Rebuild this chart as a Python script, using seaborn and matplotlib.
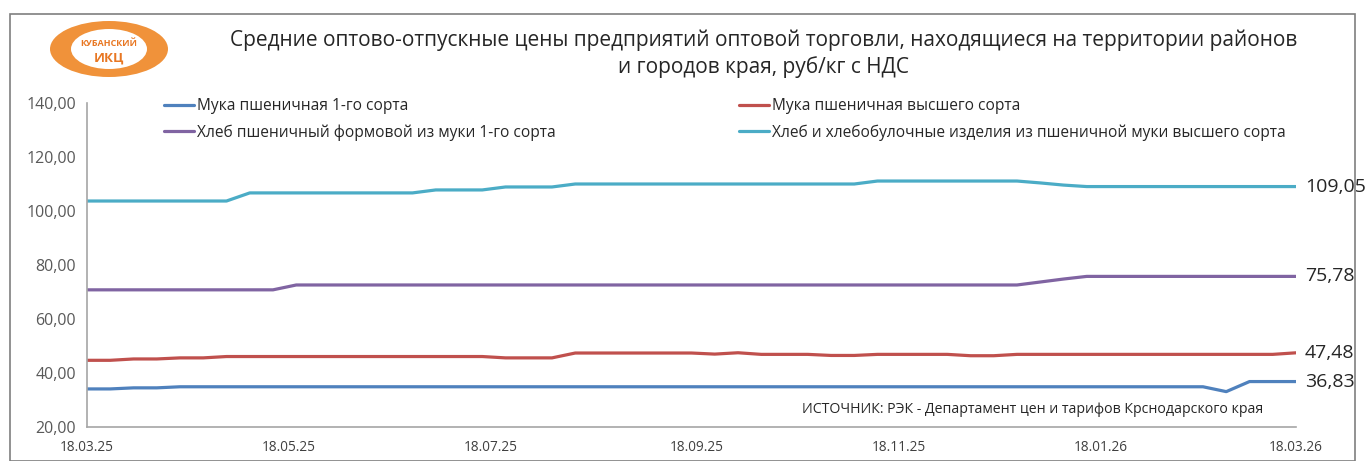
import numpy as np
import pandas as pd
import matplotlib
matplotlib.use("Agg")
import matplotlib.pyplot as plt
import matplotlib.dates as mdates
from matplotlib.patches import Ellipse, Rectangle
import seaborn as sns

# ---------------- data ----------------
start_date = "2025-03-18"
end_date = "2026-03-18"
n_points = 53

flour_1 = [34.1, 34.1, 34.5, 34.5, 34.9, 34.9, 34.9, 34.9, 34.9, 34.9,
           34.9, 34.9, 34.9, 34.9, 34.9, 34.9, 34.9, 34.9, 34.9, 34.9,
           34.9, 34.9, 34.9, 34.9, 34.9, 34.9, 34.9, 34.9, 34.9, 34.9,
           34.9, 34.9, 34.9, 34.9, 34.9, 34.9, 34.9, 34.9, 34.9, 34.9,
           34.9, 34.9, 34.9, 34.9, 34.9, 34.9, 34.9, 34.9, 34.9, 33.1,
           36.83, 36.83, 36.83]
flour_top = [44.7, 44.7, 45.2, 45.2, 45.6, 45.6, 46.1, 46.1, 46.1, 46.1,
             46.1, 46.1, 46.1, 46.1, 46.1, 46.1, 46.1, 46.1, 45.6, 45.6,
             45.6, 47.4, 47.4, 47.4, 47.4, 47.4, 47.4, 47.0, 47.5, 46.9,
             46.9, 46.9, 46.5, 46.5, 46.9, 46.9, 46.9, 46.9, 46.4, 46.4,
             46.9, 46.9, 46.9, 46.9, 46.9, 46.9, 46.9, 46.9, 46.9, 46.9,
             46.9, 46.9, 47.48]
bread_1 = [70.8, 70.8, 70.8, 70.8, 70.8, 70.8, 70.8, 70.8, 70.8, 72.6,
           72.6, 72.6, 72.6, 72.6, 72.6, 72.6, 72.6, 72.6, 72.6, 72.6,
           72.6, 72.6, 72.6, 72.6, 72.6, 72.6, 72.6, 72.6, 72.6, 72.6,
           72.6, 72.6, 72.6, 72.6, 72.6, 72.6, 72.6, 72.6, 72.6, 72.6,
           72.6, 73.7, 74.8, 75.78, 75.78, 75.78, 75.78, 75.78, 75.78, 75.78,
           75.78, 75.78, 75.78]
bread_top = [103.7, 103.7, 103.7, 103.7, 103.7, 103.7, 103.7, 106.7, 106.7, 106.7,
             106.7, 106.7, 106.7, 106.7, 106.7, 107.8, 107.8, 107.8, 108.9, 108.9,
             108.9, 110.0, 110.0, 110.0, 110.0, 110.0, 110.0, 110.0, 110.0, 110.0,
             110.0, 110.0, 110.0, 110.0, 111.1, 111.1, 111.1, 111.1, 111.1, 111.1,
             111.1, 110.4, 109.6, 109.05, 109.05, 109.05, 109.05, 109.05, 109.05, 109.05,
             109.05, 109.05, 109.05]

series_names = ["Мука пшеничная 1-го сорта",
                "Мука пшеничная высшего сорта",
                "Хлеб пшеничный формовой из муки 1-го сорта",
                "Хлеб и хлебобулочные изделия из пшеничной муки высшего сорта"]
series_colors = ["#4F81BD", "#C0504D", "#8064A2", "#4BACC6"]
end_labels = ["36,83", "47,48", "75,78", "109,05"]
y_ticks = [20, 40, 60, 80, 100, 120, 140]
x_tick_labels = ["18.03.25", "18.05.25", "18.07.25", "18.09.25", "18.11.25", "18.01.26", "18.03.26"]

title = ("Средние оптово-отпускные цены предприятий оптовой торговли, находящиеся на территории районов\n"
         "и городов края, руб/кг с НДС")
source = "ИСТОЧНИК: РЭК - Департамент цен и тарифов Крснодарского края"

# ---------------- build frame ----------------
dates = pd.date_range(start_date, end_date, periods=n_points)
values = [flour_1, flour_top, bread_1, bread_top]
df = pd.concat([pd.DataFrame({"date": dates, "value": v, "series": name})
                for name, v in zip(series_names, values)], ignore_index=True)

sns.set_theme(style="white")
plt.rcParams["font.family"] = ["Open Sans", "DejaVu Sans"]

W, H = 1365, 461
fig = plt.figure(figsize=(W / 100, H / 100), dpi=100)
ax = fig.add_axes([87 / W, 1 - 427 / H, (1296 - 87) / W, (427 - 103) / H])

sns.lineplot(data=df, x="date", y="value", hue="series", hue_order=series_names,
             palette=series_colors, linewidth=2.3, ax=ax, legend=False)

ax.set_ylim(20, 140)
ax.set_yticks(y_ticks)
ax.set_yticklabels([f"{t:.2f}".replace(".", ",") for t in y_ticks])
ax.set_xlim(pd.Timestamp(start_date), pd.Timestamp(end_date))
xt = pd.to_datetime(x_tick_labels, format="%d.%m.%y")
ax.set_xticks(xt)
ax.set_xticklabels(x_tick_labels)
ax.set_xlabel("")
ax.set_ylabel("")
ax.tick_params(axis="y", labelsize=11.5, colors="#595959", length=0, pad=8)
ax.tick_params(axis="x", labelsize=9.8, colors="#404040", length=0, pad=9)
for side in ["top", "right"]:
    ax.spines[side].set_visible(False)
for side in ["left", "bottom"]:
    ax.spines[side].set_color("#A6A6A6")
    ax.spines[side].set_linewidth(1.2)
ax.grid(False)

# end labels
for v, lab in zip(values, end_labels):
    ax.annotate(lab, xy=(dates[-1], v[-1]), xytext=(6.5, 0), textcoords="offset points",
                va="center", ha="left", fontsize=14, color="#262626", annotation_clip=False)

# legend
handles = [plt.Line2D([], [], color=c, lw=2.3) for c in series_colors]
order = [0, 2, 1, 3]
leg = fig.legend([handles[i] for i in order], [series_names[i] for i in order],
                 ncol=2, loc="upper left", bbox_to_anchor=(150 / W, 1 - 84 / H),
                 frameon=False, fontsize=11.2, handlelength=1.9, handletextpad=0.2,
                 columnspacing=11.8, labelspacing=0.65)
for t in leg.get_texts():
    t.set_color("#262626")

# title
fig.text(764 / W, 1 - 54 / H, title, ha="center", va="center", fontsize=15,
         color="#262626", linespacing=1.3)

# source
fig.text(1263 / W, 1 - 409 / H, source, ha="right", va="center", fontsize=10.2, color="#262626")

# outer frame
fig.patches.append(Rectangle((10 / W, 0), (1355 - 10) / W, (461 - 14) / H,
                             transform=fig.transFigure, fill=False,
                             edgecolor="#7F7F7F", linewidth=1.2))

# logo
logo_c = (109 / W, 1 - 49 / H)
fig.patches.append(Ellipse(logo_c, 118 / W, 56 / H, transform=fig.transFigure,
                           facecolor="#F0923A", edgecolor="none"))
fig.patches.append(Ellipse(logo_c, 76 / W, 40 / H, transform=fig.transFigure,
                           facecolor="white", edgecolor="none"))
fig.text(logo_c[0], 1 - 43 / H, "КУБАНСКИЙ", ha="center", va="center",
         fontsize=6.5, fontweight="bold", color="#E87722")
fig.text(logo_c[0], 1 - 58 / H, "ИКЦ", ha="center", va="center",
         fontsize=9.5, fontweight="bold", color="#E87722")

fig.savefig("out.png", dpi=100)
